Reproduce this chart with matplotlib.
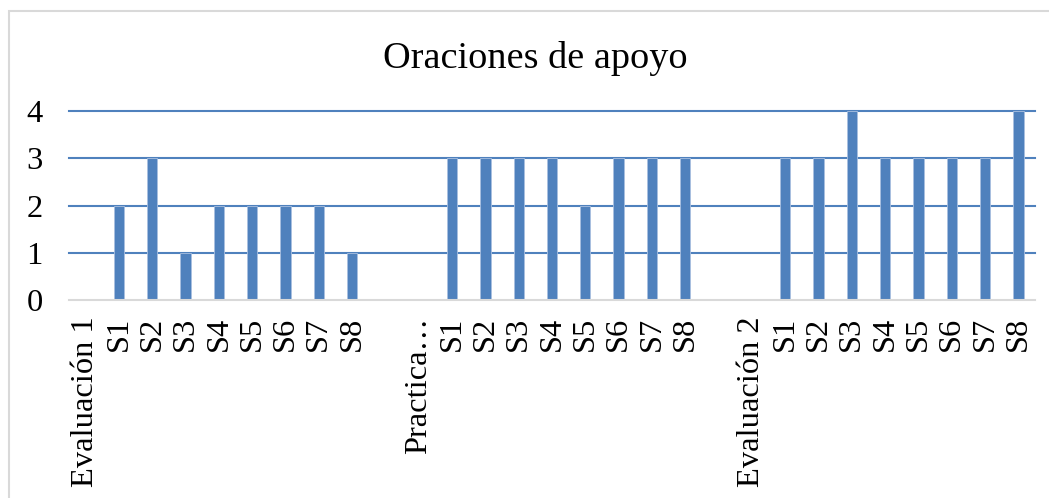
import matplotlib
matplotlib.use("Agg")
import matplotlib.pyplot as plt
from matplotlib.patches import Rectangle

categories = ["Evaluación 1", "S1", "S2", "S3", "S4", "S5", "S6", "S7", "S8", "",
              "Practica…", "S1", "S2", "S3", "S4", "S5", "S6", "S7", "S8", "",
              "Evaluación 2", "S1", "S2", "S3", "S4", "S5", "S6", "S7", "S8"]
values = [None, 2, 3, 1, 2, 2, 2, 2, 1, None,
          None, 3, 3, 3, 3, 2, 3, 3, 3, None,
          None, 3, 3, 4, 3, 3, 3, 3, 4]
yticks = [0, 1, 2, 3, 4]
title = "Oraciones de apoyo"

blue = "#4F81BD"
plt.rcParams["font.family"] = ["Liberation Serif", "DejaVu Serif"]

fig = plt.figure(figsize=(10.49, 4.98), dpi=100)
fig.patches.append(Rectangle((8.5 / 1049, -0.1), 1.2, (498 - 11.5) / 498 + 0.1,
                             transform=fig.transFigure, fill=False,
                             edgecolor="#D9D9D9", linewidth=1.5))

ax = fig.add_axes([69 / 1049, 1 - 300 / 498, (1035 - 69) / 1049, (300 - 111) / 498])
xs = [i for i, v in enumerate(values) if v is not None]
hs = [v for v in values if v is not None]
ax.bar(xs, hs, width=0.31, color=blue, edgecolor="#A9C0E0", linewidth=0.6, zorder=3)

ax.set_xlim(-0.5, len(categories) - 0.5)
ax.set_ylim(0, 4)
for y in yticks[1:]:
    ax.axhline(y, color=blue, linewidth=1.5, zorder=1, clip_on=False)
ax.axhline(0, color="#D9D9D9", linewidth=1.5, zorder=4, clip_on=False)

ax.set_yticks(yticks)
ax.set_yticklabels([str(t) for t in yticks], fontsize=23.4)
ax.set_xticks(range(len(categories)))
ax.set_xticklabels(categories, rotation=90, fontsize=23.4, va="top", ha="center")
ax.tick_params(axis="both", length=0)
ax.tick_params(axis="y", pad=19)
ax.tick_params(axis="x", pad=12)
for s in ax.spines.values():
    s.set_visible(False)

fig.text(535 / 1049, 1 - 59 / 498, title, fontsize=27.5, ha="center", va="center")

fig.savefig("out.png", dpi=100)
